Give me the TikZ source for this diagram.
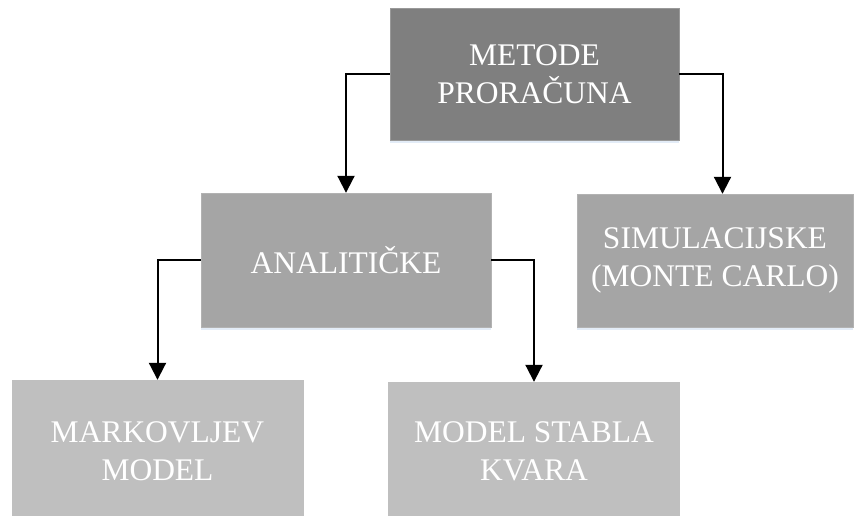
\documentclass[tikz,border=0pt]{standalone}
\usepackage{fontspec}
\setmainfont{Liberation Serif}
\usetikzlibrary{arrows.meta}
\definecolor{darkbox}{HTML}{7F7F7F}
\definecolor{midbox}{HTML}{A5A5A5}
\definecolor{lightbox}{HTML}{BFBFBF}
\definecolor{glow}{HTML}{E3ECF7}
\begin{document}
\begin{tikzpicture}[x=1pt,y=-1pt,
  box/.style={inner sep=0pt,align=center,text=white,
    font=\fontsize{31.5}{38}\selectfont,
    preaction={fill=glow,transform canvas={yshift=-3pt}}},
  arr/.style={line width=2pt,-{Triangle[length=17pt,width=17pt]}}]
\useasboundingbox (0,0) rectangle (856,515);
\node[box,fill=darkbox,draw=darkbox!80!white,minimum width=289pt,minimum height=132pt] (metode) at (534.5,74) {METODE\\PRORAČUNA};
\node[box,fill=midbox,draw=midbox!85!white,minimum width=290pt,minimum height=134pt] (anal) at (346,260) {ANALITIČKE};
\node[box,fill=midbox,draw=midbox!85!white,minimum width=276pt,minimum height=133pt] (sim) at (715,260.5) {SIMULACIJSKE\\(MONTE CARLO)};
\node[box,fill=lightbox,minimum width=292pt,minimum height=142pt] (markov) at (157.5,451) {MARKOVLJEV\\MODEL};
\node[box,fill=lightbox,minimum width=292pt,minimum height=139pt] (stablo) at (534,451.5) {MODEL STABLA\\KVARA};
\draw[arr] (metode.west) -| (anal.north);
\draw[arr] (metode.east) -| ([xshift=7.5pt]sim.north);
\draw[arr] (anal.west) -| (markov.north);
\draw[arr] (anal.east) -| (stablo.north);
\end{tikzpicture}
\end{document}
